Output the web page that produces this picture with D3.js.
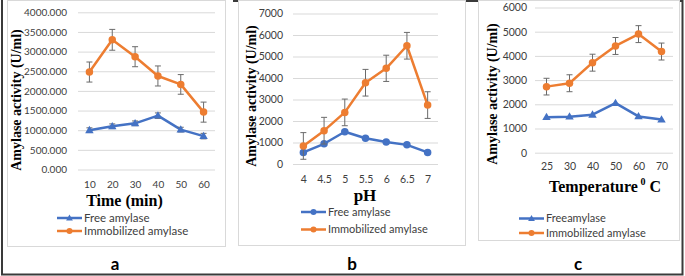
<!DOCTYPE html>
<html>
<head>
<meta charset="utf-8">
<script src="https://cdn.jsdelivr.net/npm/d3@7"></script>
<style>
  body { margin: 0; background: #fff; }
  svg { display: block; }
  .tick text { font-family: Lato, "Open Sans", sans-serif; fill: #404040; }
</style>
</head>
<body>
<svg id="fig" width="685" height="276"></svg>
<script>
(function () {
    "use strict";

    // panel a: time
    const timeLabels = ["10", "20", "30", "40", "50", "60"];
    const timeFree = [1000, 1100, 1175, 1370, 1015, 850];
    const timeFreeErr = [60, 60, 60, 70, 60, 70];
    const timeImmob = [2480, 3300, 2870, 2380, 2165, 1460];
    const timeImmobErr = [255, 265, 255, 255, 250, 255];

    // panel b: pH
    const phLabels = ["4", "4.5", "5", "5.5", "6", "6.5", "7"];
    const phFree = [540, 940, 1500, 1200, 1020, 890, 540];
    const phFreeErr = [0, 0, 0, 0, 0, 0, 0];
    const phImmob = [840, 1550, 2400, 3780, 4450, 5500, 2740];
    const phImmobErr = [620, 620, 620, 620, 610, 620, 620];

    // panel c: temperature
    const tempLabels = ["25", "30", "40", "50", "60", "70"];
    const tempFree = [1470, 1490, 1570, 2050, 1500, 1370];
    const tempFreeErr = [0, 0, 0, 0, 0, 0];
    const tempImmob = [2730, 2870, 3720, 4410, 4900, 4180];
    const tempImmobErr = [345, 350, 350, 350, 350, 350];

    const blue = "#4472C4";
    const orange = "#ED7D31";
    const errColor = "#6b6b6b";

    const svg = d3.select("#fig");

    // outer frame
    svg.append("path")
        .attr("d", "M2,0V274.5H682.5V1H233")
        .attr("fill", "none")
        .attr("stroke", "#3a3a3a")
        .attr("stroke-width", 2);

    function marker(g, shape, x, y, color, size) {
        if (shape === "triangle") {
            g.append("path")
                .attr("d", d3.symbol(d3.symbolTriangle, size * size * 0.55)())
                .attr("transform", `translate(${x},${y + 0.5})`)
                .attr("fill", color);
        } else {
            g.append("circle")
                .attr("cx", x).attr("cy", y)
                .attr("r", size / 2)
                .attr("fill", color);
        }
    }

    function drawPanel(p) {
        const g = svg.append("g");

        g.append("rect")
            .attr("x", p.box[0] + 0.5).attr("y", p.box[1] + 0.5)
            .attr("width", p.box[2] - p.box[0]).attr("height", p.box[3] - p.box[1])
            .attr("fill", "#fff")
            .attr("stroke", "#d9d9d9");

        const x = d3.scalePoint()
            .domain(p.labels)
            .range([p.plotX[0], p.plotX[1]])
            .padding(0.5);

        const y = d3.scaleLinear()
            .domain([0, p.yMax])
            .range([p.plotY[0], p.plotY[1]]);

        const yAxis = d3.axisLeft(y)
            .tickValues(d3.range(0, p.yMax + 1, p.yStep))
            .tickSize(-(p.plotX[1] - p.plotX[0]))
            .tickPadding(p.tickPad)
            .tickFormat(p.fmt);

        const ya = g.append("g")
            .attr("transform", `translate(${p.plotX[0]},0)`)
            .call(yAxis);
        ya.select(".domain").remove();
        ya.selectAll("line").attr("stroke", "#d9d9d9");
        ya.selectAll("text").attr("font-size", p.tickFont);

        const xAxis = d3.axisBottom(x).tickSize(0).tickPadding(0);
        const xa = g.append("g")
            .attr("transform", `translate(0,${p.xTickY})`)
            .call(xAxis);
        xa.select(".domain").remove();
        xa.selectAll("text").attr("font-size", p.tickFont).attr("dy", "0.32em");

        const series = [
            { vals: p.free, err: p.freeErr, color: blue, shape: p.freeShape },
            { vals: p.immob, err: p.immobErr, color: orange, shape: "circle" }
        ];

        const line = d3.line()
            .x((d, i) => x(p.labels[i]))
            .y(d => y(d));

        for (const s of series) {
            g.append("path")
                .attr("d", line(s.vals))
                .attr("fill", "none")
                .attr("stroke", s.color)
                .attr("stroke-width", 2.5)
                .attr("stroke-linejoin", "round");

            s.vals.forEach((v, i) => {
                const cx = x(p.labels[i]);
                if (s.err[i] > 0) {
                    const y0 = y(v - s.err[i]);
                    const y1 = y(v + s.err[i]);
                    g.append("path")
                        .attr("d", `M${cx},${y0}V${y1}M${cx - 3},${y0}H${cx + 3}M${cx - 3},${y1}H${cx + 3}`)
                        .attr("fill", "none")
                        .attr("stroke", errColor)
                        .attr("stroke-width", 1);
                }
                marker(g, s.shape, cx, y(v), s.color, 7.5);
            });
        }

        // axis titles
        g.append("text")
            .attr("transform", `translate(${p.yTitle[0]},${p.yTitle[1]}) rotate(-90)`)
            .attr("text-anchor", "middle")
            .attr("dy", "0.35em")
            .attr("font-family", "'Liberation Serif', serif")
            .attr("font-weight", "bold")
            .attr("font-size", 14)
            .attr("fill", "#000")
            .text("Amylase activity (U/ml)");

        const xt = g.append("text")
            .attr("x", p.xTitle[0]).attr("y", p.xTitle[1])
            .attr("text-anchor", "middle")
            .attr("font-family", "'Liberation Serif', serif")
            .attr("font-weight", "bold")
            .attr("font-size", p.xTitleSize)
            .attr("fill", "#000")
            .text(p.xTitleText);
        if (p.xTitleSup) {
            xt.append("tspan")
                .attr("dy", -7)
                .attr("font-size", 10)
                .text(" " + p.xTitleSup);
            xt.append("tspan")
                .attr("dy", 7)
                .text(" " + p.xTitleTail);
        }

        // legend
        const names = [p.freeName, "Immobilized amylase"];
        series.forEach((s, i) => {
            const ly = p.legend[1] + i * p.legendGap;
            g.append("line")
                .attr("x1", p.legend[0]).attr("x2", p.legend[0] + 25)
                .attr("y1", ly).attr("y2", ly)
                .attr("stroke", s.color)
                .attr("stroke-width", 2.5);
            marker(g, s.shape, p.legend[0] + 12.5, ly, s.color, 6);
            g.append("text")
                .attr("x", p.legend[0] + 27).attr("y", ly)
                .attr("dy", "0.35em")
                .attr("font-family", "Lato, 'Open Sans', sans-serif")
                .attr("font-size", p.legendFont)
                .attr("fill", "#404040")
                .text(names[i]);
        });

        // panel letter
        g.append("text")
            .attr("x", p.letter[0]).attr("y", 270)
            .attr("text-anchor", "middle")
            .attr("font-family", "Lato, 'Open Sans', sans-serif")
            .attr("font-weight", "bold")
            .attr("font-size", 17)
            .attr("fill", "#000")
            .text(p.letter[1]);
    }

    drawPanel({
        box: [7, 0, 225, 246],
        labels: timeLabels, free: timeFree, freeErr: timeFreeErr,
        immob: timeImmob, immobErr: timeImmobErr,
        freeShape: "triangle", freeName: "Free amylase",
        plotX: [78, 215], plotY: [169.5, 12.3], yMax: 4000, yStep: 500,
        fmt: d3.format(".3f"), tickPad: 11, tickFont: 10, xTickY: 185,
        yTitle: [16.5, 100], xTitle: [124.5, 206], xTitleSize: 16, xTitleText: "Time (min)",
        legend: [57, 218], legendGap: 13, legendFont: 11.5,
        letter: [115, "a"]
    });

    drawPanel({
        box: [238, 0, 465, 245],
        labels: phLabels, free: phFree, freeErr: phFreeErr,
        immob: phImmob, immobErr: phImmobErr,
        freeShape: "circle", freeName: "Free amylase",
        plotX: [293, 438], plotY: [164, 13.5], yMax: 7000, yStep: 1000,
        fmt: d3.format("d"), tickPad: 10, tickFont: 10.5, xTickY: 180,
        yTitle: [251.5, 96], xTitle: [365, 200.5], xTitleSize: 17, xTitleText: "pH",
        legend: [301, 212], legendGap: 17.5, legendFont: 11,
        letter: [352, "b"]
    });

    drawPanel({
        box: [478, 0, 679, 240],
        labels: tempLabels, free: tempFree, freeErr: tempFreeErr,
        immob: tempImmob, immobErr: tempImmobErr,
        freeShape: "triangle", freeName: "Freeamylase",
        plotX: [535, 673], plotY: [152.7, 7.5], yMax: 6000, yStep: 1000,
        fmt: d3.format("d"), tickPad: 8, tickFont: 10.5, xTickY: 167,
        yTitle: [492.5, 94], xTitle: [605, 191.5], xTitleSize: 16,
        xTitleText: "Temperature", xTitleSup: "0", xTitleTail: "C",
        legend: [519, 218.5], legendGap: 14.5, legendFont: 11,
        letter: [578, "c"]
    });
}());
</script>
</body>
</html>
